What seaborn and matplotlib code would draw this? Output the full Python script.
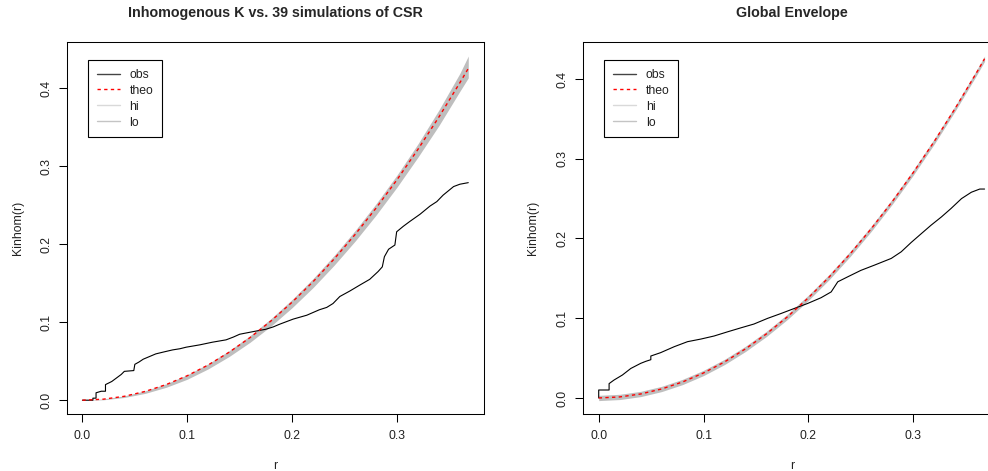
import matplotlib
matplotlib.use("Agg")
import numpy as np
import pandas as pd
import seaborn as sns
import matplotlib.pyplot as plt
from matplotlib.lines import Line2D

# ---------------- data ----------------
r_grid = [0.0, 0.02, 0.04, 0.06, 0.08, 0.10, 0.12, 0.14, 0.16, 0.18, 0.20,
          0.22, 0.24, 0.26, 0.28, 0.30, 0.32, 0.34, 0.36, 0.368]
theo_vals = [0.0, 0.0013, 0.005, 0.0113, 0.0201, 0.0314, 0.0452, 0.0616, 0.0804,
             0.1018, 0.1257, 0.152, 0.181, 0.2124, 0.2463, 0.2827, 0.3217,
             0.3632, 0.4072, 0.4254]

left_hi = [0.0, 0.0016, 0.0056, 0.0121, 0.0211, 0.0326, 0.0467, 0.0636, 0.0829,
           0.1048, 0.1292, 0.156, 0.1855, 0.2174, 0.2518, 0.2887, 0.3287,
           0.3722, 0.4192, 0.4414]
left_lo = [0.0, 0.0005, 0.0035, 0.0088, 0.0166, 0.0269, 0.0402, 0.0561, 0.0744,
           0.0953, 0.1187, 0.1445, 0.173, 0.2039, 0.2373, 0.2732, 0.3117,
           0.3522, 0.3962, 0.4134]

right_hi = [0.0033, 0.0046, 0.0083, 0.0146, 0.0234, 0.0347, 0.0485, 0.0649, 0.0837,
            0.1051, 0.129, 0.1553, 0.1843, 0.2157, 0.2496, 0.286, 0.325,
            0.3665, 0.4105, 0.4287]
right_lo = [-0.0033, -0.002, 0.0017, 0.008, 0.0168, 0.0281, 0.0419, 0.0583, 0.0771,
            0.0985, 0.1224, 0.1487, 0.1777, 0.2091, 0.243, 0.2794, 0.3184,
            0.3599, 0.4039, 0.4221]

left_obs_r = [0.0, 0.010, 0.010, 0.013, 0.013, 0.018, 0.022, 0.022, 0.028, 0.032,
              0.037, 0.040, 0.049, 0.050, 0.054, 0.058, 0.064, 0.070, 0.078, 0.086,
              0.093, 0.099, 0.112, 0.124, 0.137, 0.144, 0.150, 0.163, 0.175, 0.182,
              0.188, 0.201, 0.214, 0.226, 0.233, 0.239, 0.2455, 0.255, 0.265, 0.274,
              0.282, 0.286, 0.288, 0.292, 0.298, 0.2997, 0.306, 0.312, 0.322,
              0.3315, 0.338, 0.344, 0.354, 0.360, 0.368]
left_obs_k = [0.0, 0.0, 0.0026, 0.0026, 0.0095, 0.0115, 0.0115, 0.020, 0.024, 0.028,
              0.033, 0.037, 0.038, 0.046, 0.049, 0.0526, 0.056, 0.0594, 0.062, 0.0645,
              0.066, 0.068, 0.071, 0.0744, 0.0774, 0.081, 0.0846, 0.088, 0.091, 0.094,
              0.0974, 0.104, 0.109, 0.116, 0.119, 0.124, 0.133, 0.140, 0.148, 0.155,
              0.165, 0.171, 0.184, 0.1936, 0.199, 0.216, 0.223, 0.229, 0.2385,
              0.249, 0.2547, 0.263, 0.274, 0.277, 0.279]

right_obs_r = [0.0, 0.0, 0.0099, 0.0099, 0.0146, 0.0226, 0.0306, 0.040, 0.045,
               0.0497, 0.0497, 0.059, 0.072, 0.0847, 0.0975, 0.110, 0.123, 0.1357,
               0.148, 0.161, 0.174, 0.1866, 0.1994, 0.212, 0.2217, 0.228, 0.2376,
               0.250, 0.263, 0.279, 0.2885, 0.298, 0.3076, 0.317, 0.3268, 0.336,
               0.346, 0.3554, 0.3634, 0.368]
right_obs_k = [0.0, 0.010, 0.010, 0.018, 0.0225, 0.0288, 0.037, 0.0434, 0.046,
               0.048, 0.0526, 0.0568, 0.0643, 0.0706, 0.0739, 0.0777, 0.083, 0.088,
               0.0927, 0.0998, 0.106, 0.1123, 0.1186, 0.1257, 0.133, 0.1457, 0.152,
               0.160, 0.1666, 0.175, 0.1833, 0.195, 0.206, 0.2167, 0.227, 0.2376,
               0.250, 0.258, 0.262, 0.262]

x_ticks = [0.0, 0.1, 0.2, 0.3]
x_tick_labels = ["0.0", "0.1", "0.2", "0.3"]
y_ticks = [0.0, 0.1, 0.2, 0.3, 0.4]
y_tick_labels = ["0.0", "0.1", "0.2", "0.3", "0.4"]
legend_labels = ["obs", "theo", "hi", "lo"]
titles = ["Inhomogenous K vs. 39 simulations of CSR", "Global Envelope"]

# ---------------- style ----------------
sns.set_theme(style="white")
plt.rcParams["font.family"] = ["Liberation Sans", "DejaVu Sans"]
plt.rcParams["axes.edgecolor"] = "black"

FS = 8.8
DASH = (0, (2.4, 2.4))
fig = plt.figure(figsize=(9.88, 4.71), dpi=100)
W, H = 988.0, 471.0
ax_w = 417.0 / W
ax_h = 372.0 / H
ax_b = 1 - 414.0 / H
axL = fig.add_axes([67.0 / W, ax_b, ax_w, ax_h])
axR = fig.add_axes([583.3 / W, ax_b, ax_w, ax_h])

panels = [
    (axL, left_hi, left_lo, left_obs_r, left_obs_k, (-0.0177, 0.4594), titles[0], -0.1175),
    (axR, right_hi, right_lo, right_obs_r, right_obs_k, (-0.0201, 0.4464), titles[1], -0.1206),
]

for ax, hi, lo, obs_r, obs_k, ylim, title, ylab_x in panels:
    ax.fill_between(r_grid, lo, hi, color="#BEBEBE", linewidth=0, zorder=1)
    df_obs = pd.DataFrame({"r": obs_r, "K": obs_k})
    sns.lineplot(data=df_obs, x="r", y="K", ax=ax, color="black", linewidth=0.8,
                 estimator=None, sort=False, zorder=3)
    df_theo = pd.DataFrame({"r": r_grid, "K": theo_vals})
    sns.lineplot(data=df_theo, x="r", y="K", ax=ax, color="red", linewidth=1.0,
                 linestyle=DASH, estimator=None, sort=False, zorder=4)

    ax.set_xlim(-0.0147, 0.383)
    ax.set_ylim(*ylim)
    ax.set_xticks(x_ticks)
    ax.set_xticklabels(x_tick_labels)
    ax.set_yticks(y_ticks)
    ax.set_yticklabels(y_tick_labels, rotation=90, va="center")
    ax.tick_params(axis="both", direction="out", length=5.5, width=0.75,
                   color="black", labelsize=FS, labelcolor="#222222")
    ax.tick_params(axis="x", pad=6, bottom=True)
    ax.tick_params(axis="y", pad=5, left=True)
    for s in ax.spines.values():
        s.set_color("black")
        s.set_linewidth(0.75)
    ax.set_xlabel("r", fontsize=FS, va="center", color="#222222")
    ax.set_ylabel("Kinhom(r)", fontsize=FS, va="center", color="#222222")
    ax.xaxis.set_label_coords(0.5, (414.0 - 466.0) / 372.0)
    ax.yaxis.set_label_coords(ylab_x, 0.5)
    ax.set_title(title, fontsize=10.3, fontweight="bold", y=1 + 29.5 / 372.0,
                 va="center", pad=0)

    handles = [
        Line2D([], [], color="#444444", linewidth=1.0),
        Line2D([], [], color="red", linewidth=1.0, linestyle=DASH),
        Line2D([], [], color="#D9D9D9", linewidth=1.0),
        Line2D([], [], color="#C4C4C4", linewidth=1.0),
    ]
    leg = ax.legend(handles, legend_labels, loc="upper left",
                    bbox_to_anchor=(21.0 / 417.0, 1 - 18.3 / 372.0),
                    borderaxespad=0, frameon=True, fancybox=False, shadow=False,
                    framealpha=1, edgecolor="black", fontsize=FS,
                    handlelength=1.9, handletextpad=0.8, labelspacing=0.32,
                    borderpad=0.7)
    leg.get_frame().set_linewidth(0.8)
    for t in leg.get_texts():
        t.set_color("#222222")

fig.savefig("out.png", dpi=100)
